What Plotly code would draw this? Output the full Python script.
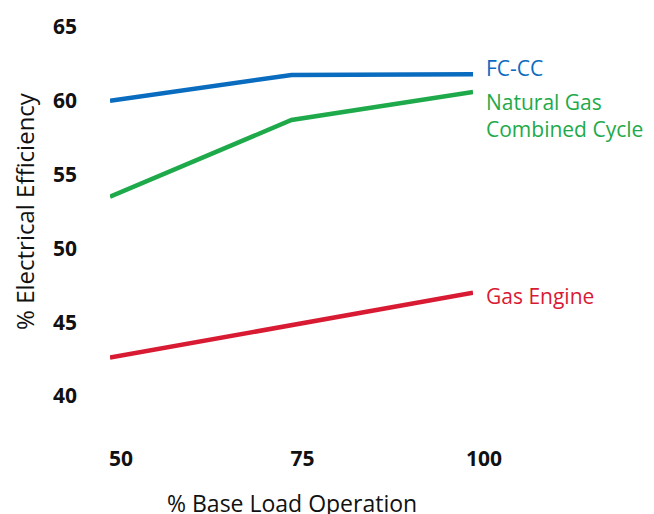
import plotly.graph_objects as go

load = [50, 75, 100]
fccc = [60.0, 61.75, 61.8]
ngcc = [53.5, 58.7, 60.6]
gas_engine = [42.6, 44.8, 47.0]
y_ticks = [40, 45, 50, 55, 60, 65]

series = [
    ("FC-CC", fccc, "#0A6CBF", 6),
    ("Natural Gas<br>Combined Cycle", ngcc, "#1EAA4A", -24),
    ("Gas Engine", gas_engine, "#D81B33", -3),
]

fig = go.Figure()
for name, vals, color, ys in series:
    fig.add_trace(go.Scatter(x=load, y=vals, mode="lines",
                             line=dict(color=color, width=4.5),
                             showlegend=False, hoverinfo="skip"))
    fig.add_annotation(x=load[-1], y=vals[-1], xref="x", yref="y",
                       text=name, showarrow=False, xanchor="left", yanchor="middle",
                       align="left", xshift=11, yshift=ys,
                       font=dict(family="Open Sans", size=21, color=color))

# x-axis title placed below the tick labels
fig.add_annotation(x=0.5, y=-0.29, xref="paper", yref="paper",
                   text="% Base Load Operation", showarrow=False,
                   xanchor="center", yanchor="middle",
                   font=dict(family="Open Sans", size=23, color="#111111"))

fig.update_layout(
    width=646, height=506,
    margin=dict(l=102, r=181, t=19, b=118),
    plot_bgcolor="white", paper_bgcolor="white",
    font=dict(family="Open Sans", color="#111111"),
    xaxis=dict(range=[50, 100], tickvals=load, ticktext=[str(v) for v in load],
               showgrid=False, zeroline=False, showline=False, ticks="",
               automargin=False,
               tickfont=dict(size=21, family="Open Sans", weight="bold"),
               ticklabelstandoff=48, ticklabelshift=11),
    yaxis=dict(range=[40, 65], tickvals=y_ticks,
               showgrid=False, zeroline=False, showline=False, ticks="",
               automargin=False,
               tickfont=dict(size=21, family="Open Sans", weight="bold"),
               ticklabelstandoff=32,
               title=dict(text="% Electrical Efficiency", font=dict(size=24), standoff=18)),
)

fig.write_html("out.html")
